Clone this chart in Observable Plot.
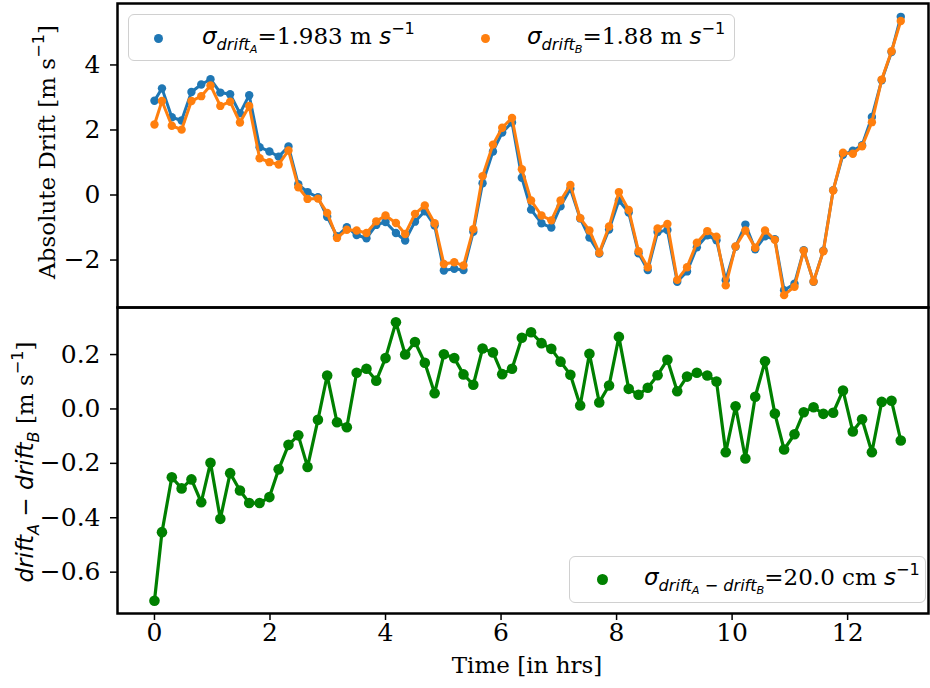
<!DOCTYPE html>
<html><head><meta charset="utf-8">
<script src="https://cdn.jsdelivr.net/npm/d3@7"></script>
<script src="https://cdn.jsdelivr.net/npm/@observablehq/plot@0.6"></script>
<style>
body{margin:0;background:#fff;}
#wrap{position:relative;width:930px;height:688px;font-family:"DejaVu Serif";color:#000;overflow:hidden;}
#wrap svg{display:block;position:absolute;left:0;}
.lbl{position:absolute;white-space:nowrap;line-height:1;}
.m{font-family:"DejaVu Sans";font-style:italic;}
.sub{font-size:70%;vertical-align:-0.35em;}
.ss{font-size:70%;vertical-align:-0.3em;font-family:"DejaVu Sans";font-style:italic;}
.sup{font-size:70%;vertical-align:0.65em;font-family:"DejaVu Sans";font-style:normal;}
.legend{position:absolute;box-sizing:border-box;border:1.5px solid #d0d0d0;border-radius:6px;background:rgba(255,255,255,0.8);}
.mk{position:absolute;border-radius:50%;}
</style></head><body><div id="wrap"></div>
<script>
// ---- data ----
const time = [0.00,0.13,0.30,0.47,0.64,0.81,0.97,1.14,1.31,1.48,
1.64,1.82,1.99,2.15,2.32,2.49,2.65,2.83,2.99,3.16,
3.33,3.50,3.67,3.84,4.00,4.18,4.34,4.51,4.68,4.85,
5.01,5.19,5.35,5.52,5.68,5.86,6.02,6.19,6.36,6.52,
6.70,6.87,7.03,7.20,7.37,7.53,7.70,7.87,8.04,8.21,
8.38,8.54,8.71,8.88,9.05,9.22,9.39,9.57,9.73,9.89,
10.06,10.23,10.40,10.57,10.74,10.90,11.08,11.24,11.41,11.58,
11.75,11.92,12.09,12.25,12.42,12.59,12.76,12.92];
const driftA = [2.90,3.28,2.39,2.29,3.17,3.40,3.56,3.15,3.10,2.51,
3.07,1.47,1.34,1.18,1.49,0.33,0.09,-0.07,-0.67,-1.27,
-0.99,-1.23,-1.33,-0.92,-0.83,-1.17,-1.40,-0.82,-0.50,-0.94,
-2.32,-2.27,-2.31,-1.13,0.36,1.34,1.92,2.23,0.53,-0.45,
-0.87,-1.00,-0.35,0.19,-0.72,-1.31,-1.80,-1.06,-0.17,-0.54,
-1.79,-2.31,-1.14,-1.08,-2.67,-2.35,-1.61,-1.24,-1.39,-2.62,
-1.59,-0.91,-1.67,-1.27,-1.36,-2.93,-2.73,-1.70,-2.67,-1.71,
0.15,1.24,1.36,1.53,2.40,3.53,4.40,5.48];
const driftB = [2.17,2.89,2.13,2.01,2.89,3.04,3.37,2.74,2.87,2.23,
2.74,1.13,1.01,0.94,1.37,0.24,-0.12,-0.11,-0.55,-1.32,
-1.07,-1.09,-1.17,-0.81,-0.63,-0.86,-1.20,-0.58,-0.32,-0.87,
-2.12,-2.07,-2.17,-1.05,0.58,1.55,2.07,2.37,0.79,-0.17,
-0.63,-0.78,-0.17,0.31,-0.71,-1.09,-1.78,-0.97,0.09,-0.46,
-1.73,-2.22,-1.03,-0.89,-2.61,-2.22,-1.47,-1.11,-1.28,-2.78,
-1.58,-1.09,-1.62,-1.09,-1.38,-3.08,-2.82,-1.71,-2.66,-1.73,
0.14,1.30,1.27,1.50,2.24,3.55,4.42,5.35];
const diffAB = [-0.705,-0.453,-0.251,-0.292,-0.259,-0.343,-0.198,-0.404,-0.236,-0.300,
-0.346,-0.346,-0.324,-0.222,-0.132,-0.097,-0.213,-0.040,0.123,-0.049,
-0.067,0.133,0.148,0.104,0.187,0.319,0.200,0.246,0.170,0.058,
0.201,0.187,0.127,0.089,0.222,0.208,0.128,0.148,0.262,0.282,
0.242,0.221,0.174,0.126,0.013,0.203,0.024,0.086,0.265,0.074,
0.052,0.078,0.124,0.181,0.065,0.119,0.133,0.123,0.101,-0.159,
0.010,-0.182,0.045,0.175,-0.017,-0.149,-0.093,-0.012,0.006,-0.018,
-0.014,0.068,-0.083,-0.038,-0.159,0.026,0.030,-0.116];
const xTicks = [0,2,4,6,8,10,12];
const yTicksTop = [-2,0,2,4];
const yTicksBottom = [-0.6,-0.4,-0.2,0.0,0.2];
const sigmaA = "1.983", sigmaB = "1.88", sigmaDiff = "20.0";

// ---- build ----
const rowsA = time.map((t,i)=>({t, v: driftA[i]}));
const rowsB = time.map((t,i)=>({t, v: driftB[i]}));
const rowsD = time.map((t,i)=>({t, v: diffAB[i]}));
const xDomain = [-0.64, 13.40];
const blue = "#1f77b4", orange = "#ff7f0e", green = "#008000";
const baseStyle = {fontFamily:"DejaVu Serif", fontSize:"25px", color:"#000", background:"transparent", overflow:"visible"};
const minus = f => d => f(d).replace(/[-\u2212]/g, "\u2212");

const topPlot = Plot.plot({
  width:930, height:307, marginTop:3, marginBottom:0, marginLeft:117, marginRight:2,
  style: baseStyle,
  x:{domain:xDomain, axis:null},
  y:{domain:[-3.46,5.89]},
  marks:[
    Plot.line(rowsA,{x:"t",y:"v",stroke:blue,strokeWidth:3}),
    Plot.dot(rowsA,{x:"t",y:"v",fill:blue,r:4.2}),
    Plot.line(rowsB,{x:"t",y:"v",stroke:orange,strokeWidth:3}),
    Plot.dot(rowsB,{x:"t",y:"v",fill:orange,r:4.2}),
    Plot.axisY({ticks:yTicksTop, tickSize:7, tickPadding:10, strokeWidth:1.5, label:null, tickFormat:minus(d3.format("d"))}),
    Plot.frame({stroke:"#000", strokeWidth:2.5})
  ]
});
topPlot.style.top = "0px";

const botPlot = Plot.plot({
  width:930, height:381, marginTop:0, marginBottom:75, marginLeft:117, marginRight:2,
  style: baseStyle,
  x:{domain:xDomain},
  y:{domain:[-0.752,0.373]},
  marks:[
    Plot.line(rowsD,{x:"t",y:"v",stroke:green,strokeWidth:3.2}),
    Plot.dot(rowsD,{x:"t",y:"v",fill:green,r:5.3}),
    Plot.axisY({ticks:yTicksBottom, tickSize:7, tickPadding:10, strokeWidth:1.5, label:null, tickFormat:minus(d3.format(".1f"))}),
    Plot.axisX({ticks:xTicks, tickSize:7, tickPadding:3, strokeWidth:1.5, label:null, tickFormat:d3.format("d")}),
    Plot.frame({stroke:"#000", strokeWidth:2.5})
  ]
});
botPlot.style.top = "307px";

const wrap = document.getElementById("wrap");
wrap.appendChild(topPlot);
wrap.appendChild(botPlot);

function addLabel(html, cx, cy, size, rotate){
  const d = document.createElement("div");
  d.className = "lbl";
  d.innerHTML = html;
  d.style.left = cx + "px"; d.style.top = cy + "px";
  d.style.fontSize = size + "px";
  d.style.transform = "translate(-50%,-50%)" + (rotate ? " rotate(-90deg)" : "");
  wrap.appendChild(d);
}
const unit = 'm s<span class="sup">−1</span>';
addLabel("Time [in hrs]", 527, 665, 23, false);
addLabel("Absolute Drift [" + unit + "]", 45, 152, 23, true);
addLabel('<span class="m">drift</span><span class="sub" style="font-family:DejaVu Sans;font-style:italic">A</span><span style="font-family:DejaVu Sans"> − </span><span class="m">drift</span><span class="sub" style="font-family:DejaVu Sans;font-style:italic">B</span> [' + unit + ']', 26, 462, 23, true);

function addLegend(left, top, w, h, items){
  const b = document.createElement("div");
  b.className = "legend";
  Object.assign(b.style, {left:left+"px", top:top+"px", width:w+"px", height:h+"px"});
  wrap.appendChild(b);
  for (const it of items){
    const m = document.createElement("div");
    m.className = "mk";
    Object.assign(m.style, {left:(it.mx-it.r)+"px", top:(it.my-it.r)+"px", width:(2*it.r)+"px", height:(2*it.r)+"px", background:it.color});
    wrap.appendChild(m);
    const t = document.createElement("div");
    t.className = "lbl";
    t.innerHTML = it.html;
    Object.assign(t.style, {left:it.tx+"px", top:it.my+"px", fontSize:"23px", transform:"translate(0,-50%)"});
    wrap.appendChild(t);
  }
}
const sigAB = (letter) => '<span class="m">drift</span><span class="ss">' + letter + '</span>';
addLegend(128, 14, 607, 47, [
  {mx:158, my:38, r:4.5, color:blue, tx:202, html:'<span class="m">σ</span><span class="sub">' + sigAB("A") + '</span>=' + sigmaA + ' m <span class="m">s</span><span class="sup">−1</span>'},
  {mx:485, my:38, r:4.5, color:orange, tx:527, html:'<span class="m">σ</span><span class="sub">' + sigAB("B") + '</span>=' + sigmaB + ' m <span class="m">s</span><span class="sup">−1</span>'}
]);
addLegend(569, 556, 357, 47, [
  {mx:602, my:579, r:5.5, color:green, tx:644, html:'<span class="m">σ</span><span class="sub">' + sigAB("A") + '<span class="m"> − </span>' + sigAB("B") + '</span>=' + sigmaDiff + ' cm <span class="m">s</span><span class="sup">−1</span>'}
]);
</script>
</body></html>
